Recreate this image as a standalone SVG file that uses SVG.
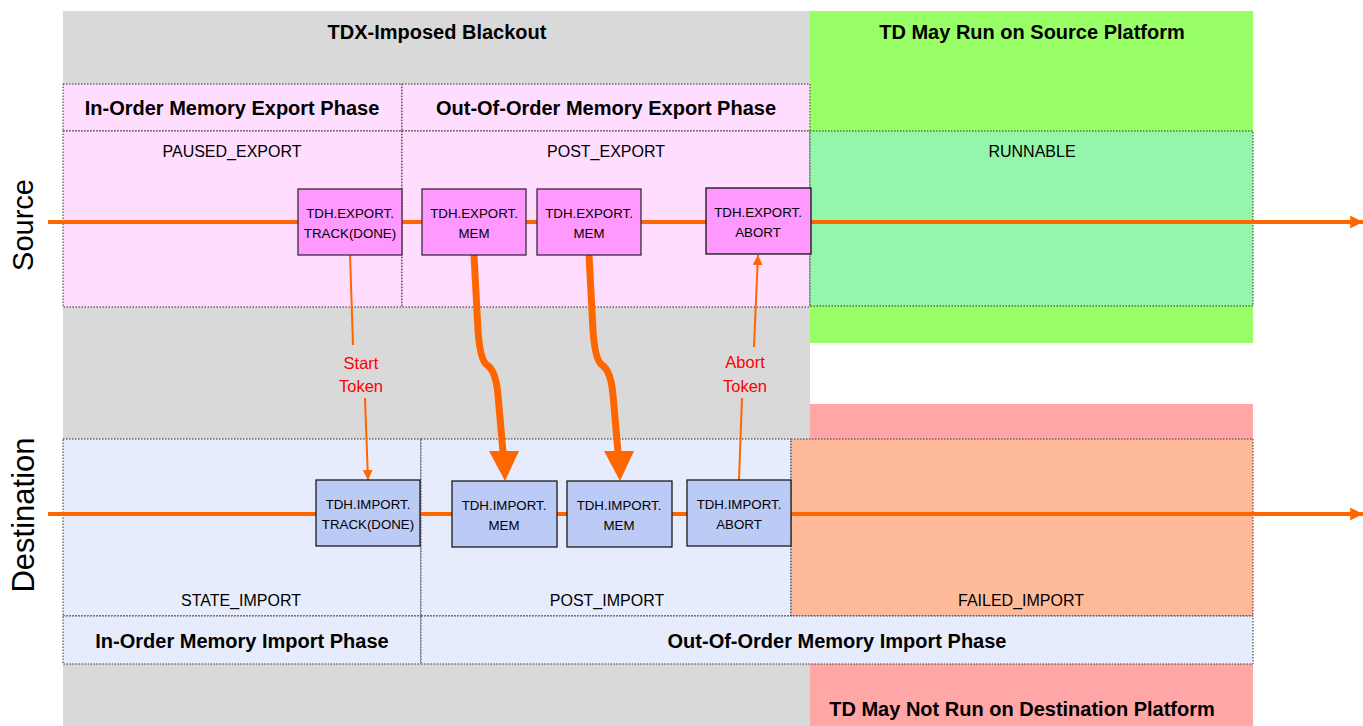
<svg xmlns="http://www.w3.org/2000/svg" width="1363" height="726" viewBox="0 0 1363 726">
<style>
.bg{stroke:none}
.reg{stroke:#333;stroke-width:1;stroke-dasharray:1.5 1.5}
.ttl{font-family:"Liberation Sans",Arial,sans-serif;font-weight:bold;font-size:20px;fill:#000;text-anchor:middle}
.st{font-family:"Liberation Sans",Arial,sans-serif;font-size:16px;fill:#000;text-anchor:middle}
.bx{font-family:"Liberation Sans",Arial,sans-serif;font-size:13.3px;fill:#000;text-anchor:middle}
.tok{font-family:"Liberation Sans",Arial,sans-serif;font-size:16.5px;fill:#FF0000;text-anchor:middle}
.side{font-family:"Liberation Sans",Arial,sans-serif;font-size:29px;fill:#000;text-anchor:middle}
.ebox{fill:#FF99FF;stroke:#3a2a3a;stroke-width:1.3}
.ibox{fill:#BBCBF5;stroke:#1a1a1a;stroke-width:1.3}
.main{stroke:#FF6600;stroke-width:4;fill:none}
.thin{stroke:#FF6600;stroke-width:2;fill:none}
.thick{stroke:#FF6600;stroke-width:7;fill:none;stroke-linejoin:round;stroke-linecap:butt}
</style>
<defs>
<marker id="mainHead" viewBox="0 0 10 10" refX="10" refY="5" markerWidth="3.2" markerHeight="3.2" orient="auto" markerUnits="strokeWidth">
<path d="M0,0 L10,5 L0,10 z" fill="#FF6600"/>
</marker>
<marker id="thinHead" viewBox="0 0 10 10" refX="10" refY="5" markerWidth="5" markerHeight="5" orient="auto" markerUnits="strokeWidth">
<path d="M0,0 L10,5 L0,10 z" fill="#FF6600"/>
</marker>
</defs>

<g id="backgrounds">
<rect class="bg" x="63" y="11" width="747" height="715" fill="#D9D9D9"/>
<rect class="bg" x="810" y="11" width="443" height="332" fill="#99FF66"/>
<rect class="bg" x="810" y="404" width="443" height="322" fill="#FFA6A6"/>
<text class="ttl" x="437" y="39">TDX-Imposed Blackout</text>
<text class="ttl" x="1032" y="39">TD May Run on Source Platform</text>
<text class="ttl" x="1022" y="716">TD May Not Run on Destination Platform</text>
</g>

<g id="side-labels">
<text class="side" transform="translate(33,225) rotate(-90)">Source</text>
<text class="side" transform="translate(34,515) rotate(-90)" style="font-size:31px">Destination</text>
</g>

<g id="in-order-export-phase">
<rect class="reg" x="63" y="84" width="339" height="47" fill="#FEDDFE"/>
<text class="ttl" x="232" y="115">In-Order Memory Export Phase</text>
</g>
<g id="paused-export">
<rect class="reg" x="63" y="131" width="339" height="176" fill="#FEDDFE"/>
<text class="st" x="232" y="157">PAUSED_EXPORT</text>
</g>
<g id="ooo-export-phase">
<rect class="reg" x="402" y="84" width="408" height="47" fill="#FEDDFE"/>
<text class="ttl" x="606" y="115">Out-Of-Order Memory Export Phase</text>
</g>
<g id="post-export">
<rect class="reg" x="402" y="131" width="408" height="176" fill="#FEDDFE"/>
<text class="st" x="606" y="157">POST_EXPORT</text>
</g>
<g id="runnable">
<rect class="reg" x="810" y="131" width="443" height="175" fill="#95F5AB"/>
<text class="st" x="1032" y="157">RUNNABLE</text>
</g>

<g id="state-import">
<rect class="reg" x="63" y="439" width="358" height="177" fill="#E6ECFB"/>
<text class="st" x="241" y="606">STATE_IMPORT</text>
</g>
<g id="in-order-import-phase">
<rect class="reg" x="63" y="616" width="358" height="48" fill="#E6ECFB"/>
<text class="ttl" x="242" y="648">In-Order Memory Import Phase</text>
</g>
<g id="post-import">
<rect class="reg" x="421" y="439" width="370" height="177" fill="#E6ECFB"/>
<text class="st" x="607" y="606">POST_IMPORT</text>
</g>
<g id="failed-import">
<rect class="reg" x="791" y="439" width="462" height="177" fill="#FFBB99"/>
<text class="st" x="1021" y="606">FAILED_IMPORT</text>
</g>
<g id="ooo-import-phase">
<rect class="reg" x="421" y="616" width="832" height="48" fill="#E6ECFB"/>
<text class="ttl" x="837" y="648">Out-Of-Order Memory Import Phase</text>
</g>

<g id="connectors">
<line class="main" x1="48" y1="222" x2="1363" y2="222" marker-end="url(#mainHead)"/>
<line class="main" x1="48" y1="514" x2="1363" y2="514" marker-end="url(#mainHead)"/>
<path class="thin" d="M350,255 L353,345"/>
<path class="thin" d="M365,398 L368,480" marker-end="url(#thinHead)"/>
<text class="tok" x="361" y="369">Start</text>
<text class="tok" x="361" y="392">Token</text>
<path class="thin" d="M739,480 L742,398"/>
<path class="thin" d="M754,347 L758,255" marker-end="url(#thinHead)"/>
<text class="tok" x="745" y="368">Abort</text>
<text class="tok" x="745" y="392">Token</text>
<path class="thick" d="M474,255 L478,330 Q480,360 487,365 Q496,371 498,395 L503,452"/>
<polygon points="489,451 519,451 505,481" fill="#FF6600"/>
<path class="thick" d="M589,255 L593,330 Q595,360 602,365 Q611,371 613,395 L618,452"/>
<polygon points="604,451 634,451 620,481" fill="#FF6600"/>
</g>

<g id="export-track">
<rect class="ebox" x="298" y="189" width="104" height="66"/>
<text class="bx" x="350" y="218">TDH.EXPORT.</text>
<text class="bx" x="350" y="238">TRACK(DONE)</text>
</g>
<g id="export-mem-1">
<rect class="ebox" x="422" y="189" width="104" height="66"/>
<text class="bx" x="474" y="218">TDH.EXPORT.</text>
<text class="bx" x="474" y="238">MEM</text>
</g>
<g id="export-mem-2">
<rect class="ebox" x="537" y="189" width="104" height="66"/>
<text class="bx" x="589" y="218">TDH.EXPORT.</text>
<text class="bx" x="589" y="238">MEM</text>
</g>
<g id="export-abort">
<rect class="ebox" x="706" y="188" width="105" height="66" style="stroke:#111"/>
<text class="bx" x="758" y="217">TDH.EXPORT.</text>
<text class="bx" x="758" y="237">ABORT</text>
</g>

<g id="import-track">
<rect class="ibox" x="316" y="480" width="104" height="66"/>
<text class="bx" x="368" y="509">TDH.IMPORT.</text>
<text class="bx" x="368" y="529">TRACK(DONE)</text>
</g>
<g id="import-mem-1">
<rect class="ibox" x="452" y="481" width="105" height="66"/>
<text class="bx" x="504" y="510">TDH.IMPORT.</text>
<text class="bx" x="504" y="530">MEM</text>
</g>
<g id="import-mem-2">
<rect class="ibox" x="567" y="481" width="105" height="66"/>
<text class="bx" x="619" y="510">TDH.IMPORT.</text>
<text class="bx" x="619" y="530">MEM</text>
</g>
<g id="import-abort">
<rect class="ibox" x="687" y="480" width="104" height="66"/>
<text class="bx" x="739" y="509">TDH.IMPORT.</text>
<text class="bx" x="739" y="529">ABORT</text>
</g>
</svg>
